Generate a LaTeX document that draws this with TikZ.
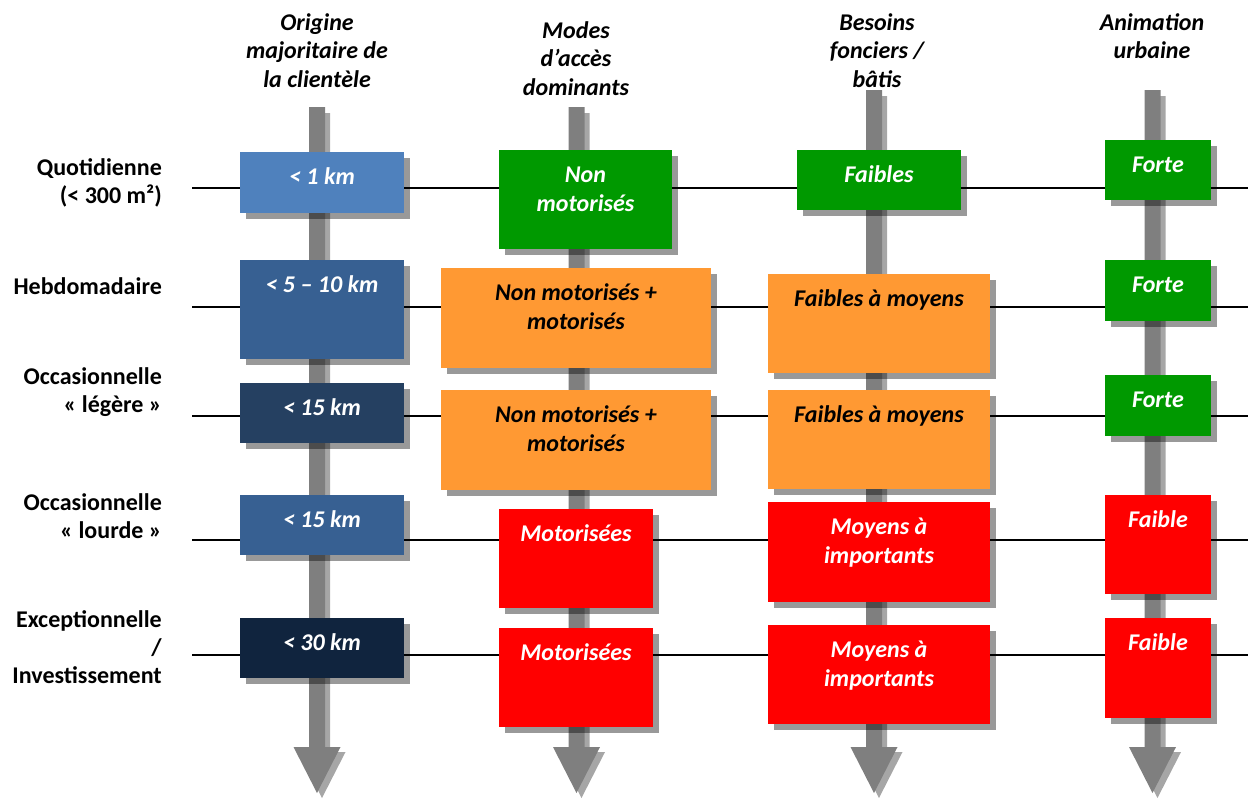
\documentclass[tikz,border=0pt]{standalone}
\usepackage{fontspec}
\setmainfont{Carlito}
\usetikzlibrary{calc}
\definecolor{cblueA}{HTML}{4F81BD}
\definecolor{cblueB}{HTML}{376092}
\definecolor{cblueC}{HTML}{254061}
\definecolor{cblueD}{HTML}{10243E}
\definecolor{cgreen}{HTML}{009900}
\definecolor{corange}{HTML}{FF9933}
\definecolor{cred}{HTML}{FF0000}
\definecolor{cshaft}{HTML}{7F7F7F}
\tikzset{
  txtfont/.style={font=\bfseries\itshape\fontsize{24}{28.5}\selectfont},
  boxn/.style={draw=none, inner sep=0pt, outer sep=0pt},
  boxt/.style={txtfont, inner sep=0pt, align=center},
  boxshadow/.style={fill=black, fill opacity=0.4},
  shaftshadow/.style={fill=black, fill opacity=0.35},
  shaftfill/.style={fill=cshaft},
  rowlab/.style={font=\bfseries\fontsize{24}{28}\selectfont, inner sep=0pt, align=right, anchor=north east},
  header/.style={txtfont, inner sep=0pt, align=center, anchor=north},
  rowline/.style={line width=1.6pt, black}
}
\newcommand\bx[8]{%
  \fill[boxshadow] (#2+5.5,#3+5.5) rectangle (#4+5.5,#5+5.5);
  \node[boxn, fill=#6, minimum width={#4-#2}, minimum height={#5-#3}, anchor=north west] (#1) at (#2,#3) {};
  \node[boxt, text=#7, anchor=north] (#1t) at ($(#1.north)+(0,12.5)$) {\rule{0pt}{20pt}#8};
}
\newcommand\varrow[2]{%
  \fill[shaftshadow] (#1-8+5,#2+6) -- (#1+8+5,#2+6) -- (#1+8+5,747+5) -- (#1+23.5+5,747+5) -- (#1+5,793+5) -- (#1-23.5+5,747+5) -- (#1-8+5,747+5) -- cycle;
  \fill[shaftfill] (#1-8,#2) -- (#1+8,#2) -- (#1+8,747) -- (#1+23.5,747) -- (#1,793) -- (#1-23.5,747) -- (#1-8,747) -- cycle;
}
\begin{document}
\begin{tikzpicture}[x=1pt,y=-1pt]
\useasboundingbox (0,0) rectangle (1248,801);
% headers
\node[header] (h1) at (317,10) {\rule{0pt}{20pt}Origine\\majoritaire de\\la clientèle};
\node[header] (h2) at (576,18) {\rule{0pt}{20pt}Modes\\d’accès\\dominants};
\node[header] (h3) at (877,10) {\rule{0pt}{20pt}Besoins\\fonciers /\\bâtis};
\node[header] (h4) at (1152,10) {\rule{0pt}{20pt}Animation\\urbaine};
% row labels
\node[rowlab] (r1) at (162,155) {\rule{0pt}{20pt}Quotidienne\\(< 300 m²)};
\node[rowlab] (r2) at (162,274) {\rule{0pt}{20pt}Hebdomadaire};
\node[rowlab] (r3) at (162,364) {\rule{0pt}{20pt}Occasionnelle\\« légère »};
\node[rowlab] (r4) at (162,490) {\rule{0pt}{20pt}Occasionnelle\\« lourde »};
\node[rowlab] (r5) at (162,607) {\rule{0pt}{20pt}Exceptionnelle\\/\\Investissement};
% row lines
\foreach \i/\yy in {1/188,2/307,3/416,4/540,5/655}{
  \coordinate (L\i) at (192,\yy);
  \coordinate (R\i) at (1248,\yy);
  \draw[rowline] (L\i) -- (R\i);
}
% vertical arrows
\varrow{317}{107}
\varrow{576.5}{107}
\varrow{874}{90}
\varrow{1152.5}{90}
% column 1
\bx{a1}{240}{152}{404}{213}{cblueA}{white}{< 1 km}
\bx{a2}{240}{260}{404}{359}{cblueB}{white}{< 5 – 10 km}
\bx{a3}{240}{383}{404}{443}{cblueC}{white}{< 15 km}
\bx{a4}{240}{495}{404}{555}{cblueB}{white}{< 15 km}
\bx{a5}{240}{618}{404}{678}{cblueD}{white}{< 30 km}
% column 2
\bx{b1}{499}{150}{672}{249}{cgreen}{white}{Non\\motorisés}
\bx{b2}{441}{268}{711}{368}{corange}{black}{Non motorisés +\\motorisés}
\bx{b3}{441}{390}{711}{490}{corange}{black}{Non motorisés +\\motorisés}
\bx{b4}{499}{509}{653}{608}{cred}{white}{Motorisées}
\bx{b5}{499}{628}{653}{727}{cred}{white}{Motorisées}
% column 3
\bx{c1}{797}{150}{961}{210}{cgreen}{white}{Faibles}
\bx{c2}{768}{274}{990}{373}{corange}{black}{Faibles à moyens}
\bx{c3}{768}{390}{990}{489}{corange}{black}{Faibles à moyens}
\bx{c4}{768}{502}{990}{602}{cred}{white}{Moyens à\\importants}
\bx{c5}{768}{625}{990}{724}{cred}{white}{Moyens à\\importants}
% column 4
\bx{d1}{1105}{140}{1211}{200}{cgreen}{white}{Forte}
\bx{d2}{1105}{260}{1211}{321}{cgreen}{white}{Forte}
\bx{d3}{1105}{375}{1211}{436}{cgreen}{white}{Forte}
\bx{d4}{1105}{495}{1211}{594}{cred}{white}{Faible}
\bx{d5}{1105}{618}{1211}{718}{cred}{white}{Faible}
\end{tikzpicture}
\end{document}
